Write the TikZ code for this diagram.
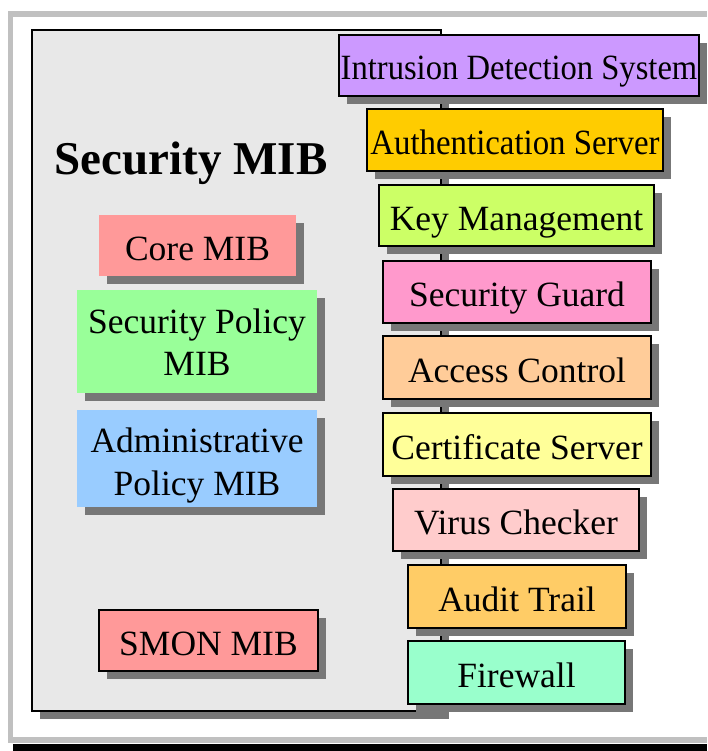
\documentclass[tikz,border=0pt]{standalone}
\usepackage{fontspec}
\setmainfont{Liberation Serif}
\usetikzlibrary{shadows}
\definecolor{framegray}{HTML}{C0C0C0}
\definecolor{panelgray}{HTML}{E8E8E8}
\definecolor{shgray}{HTML}{777777}
\definecolor{cIDS}{HTML}{CC99FF}
\definecolor{cAuth}{HTML}{FFCC00}
\definecolor{cKey}{HTML}{CCFF66}
\definecolor{cGuard}{HTML}{FF99CC}
\definecolor{cAccess}{HTML}{FFCC99}
\definecolor{cCert}{HTML}{FFFF99}
\definecolor{cVirus}{HTML}{FFCCCC}
\definecolor{cAudit}{HTML}{FFCC66}
\definecolor{cFire}{HTML}{99FFCC}
\definecolor{cCore}{HTML}{FF9999}
\definecolor{cPol}{HTML}{99FF99}
\definecolor{cAdm}{HTML}{99CCFF}
\begin{document}
\begin{tikzpicture}[x=1pt,y=-1pt,
  shad/.style={drop shadow={shadow xshift=8pt,shadow yshift=-8pt,fill=shgray,opacity=1,draw=none}},
  boxbase/.style={rectangle,inner sep=0pt,shad,text height=29pt,text depth=0pt,
    font=\fontsize{35.5}{42}\selectfont},
  rbox/.style={boxbase,draw=black,line width=1.4pt},
  lbox/.style={boxbase,draw=none}
]
\useasboundingbox (0,0) rectangle (707,751);
% slide frame
\fill[framegray] (8,11) rectangle (707,743);
\fill[white] (13,17) rectangle (707,737);
\fill[black] (13,744) rectangle (707,751);

% main panel
\node[draw=black,line width=1.4pt,fill=panelgray,shad,inner sep=0pt,
  minimum width=409pt,minimum height=681pt] (panel) at (236.5,370.5) {};
\node[anchor=base,font=\fontsize{47}{56}\selectfont\bfseries] (title) at (191,175) {Security MIB};

% left boxes
\node[lbox,fill=cCore,minimum width=197pt,minimum height=61pt] (core) at (197.5,245.5) {Core MIB};
\node[lbox,fill=cPol,minimum width=240pt,minimum height=103pt,text height=67pt] (secpol) at (197,341.5)
  {\begin{tabular}[b]{@{}c@{}}Security Policy\\MIB\end{tabular}};
\node[lbox,fill=cAdm,minimum width=240pt,minimum height=97pt,text height=73pt,
  font=\fontsize{35.5}{42.5}\selectfont] (admpol) at (197,458.5)
  {\begin{tabular}[b]{@{}c@{}}Administrative\\Policy MIB\end{tabular}};
\node[rbox,fill=cCore,minimum width=219pt,minimum height=61pt] (smon) at (208.5,640.5) {SMON MIB};

% right boxes
\node[rbox,fill=cIDS,minimum width=360pt,minimum height=61pt] (ids) at (519,65.5) {\scalebox{0.918}[1]{Intrusion Detection System}};
\node[rbox,fill=cAuth,minimum width=296pt,minimum height=62pt] (auth) at (515,140) {\scalebox{0.925}[1]{Authentication Server}};
\node[rbox,fill=cKey,minimum width=275pt,minimum height=61pt] (key) at (516.5,215.5) {Key Management};
\node[rbox,fill=cGuard,minimum width=268pt,minimum height=62pt] (guard) at (517,292) {Security Guard};
\node[rbox,fill=cAccess,minimum width=268pt,minimum height=63pt] (access) at (517,367.5) {Access Control};
\node[rbox,fill=cCert,minimum width=268pt,minimum height=63pt] (cert) at (517,444.5) {Certificate Server};
\node[rbox,fill=cVirus,minimum width=246pt,minimum height=62pt] (virus) at (516,520) {Virus Checker};
\node[rbox,fill=cAudit,minimum width=218pt,minimum height=63pt] (audit) at (517,596.5) {Audit Trail};
\node[rbox,fill=cFire,minimum width=217pt,minimum height=63pt] (fire) at (516.5,672.5) {Firewall};
\end{tikzpicture}
\end{document}
